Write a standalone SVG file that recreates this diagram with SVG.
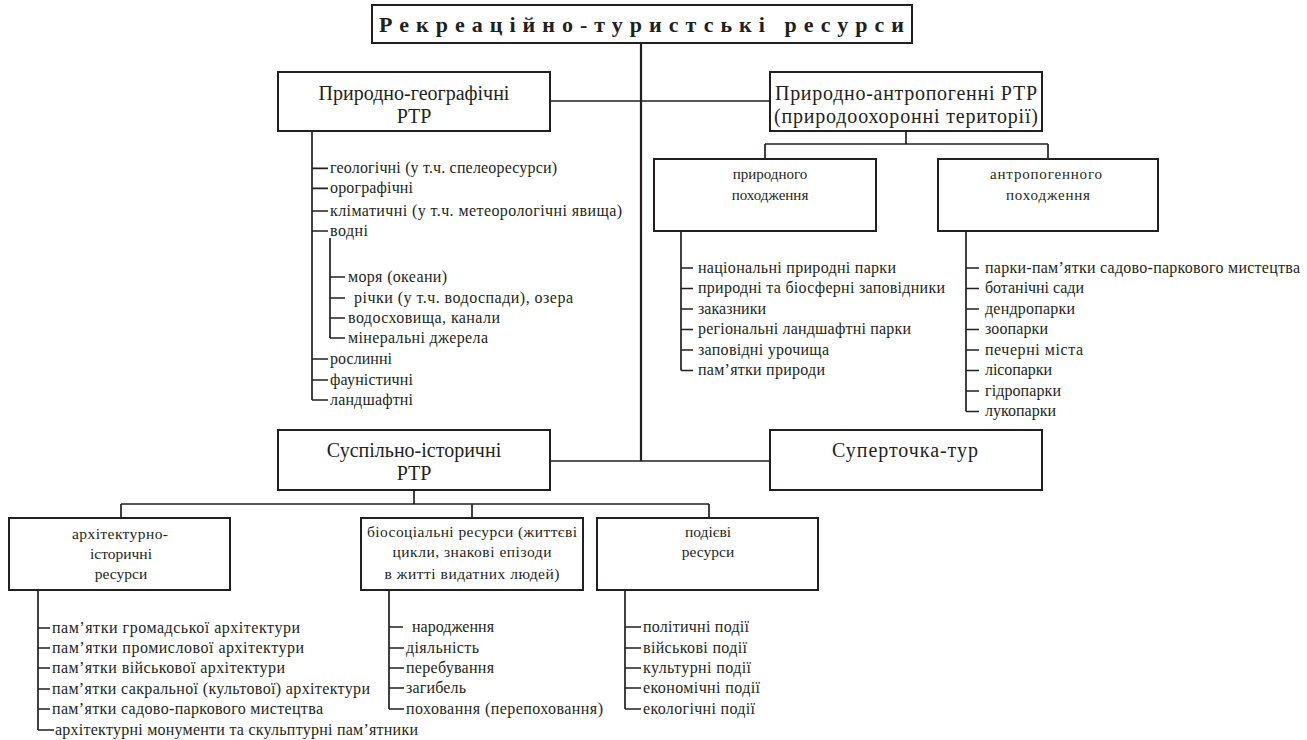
<svg xmlns="http://www.w3.org/2000/svg" width="1307" height="740" viewBox="0 0 1307 740">
<style>
text{font-family:"Liberation Serif","Times New Roman",serif;fill:#231f20}
.box{fill:#fff;stroke:#231f20;stroke-width:2}
.ln{fill:none;stroke:#231f20;stroke-width:1.7}
.tr{fill:none;stroke:#231f20;stroke-width:2.2}
.t20{font-size:20px;text-anchor:middle}
.t14{font-size:15px;text-anchor:middle}
.t15m{font-size:15.5px;text-anchor:middle}
.li{font-size:16px}
.ttl{font-size:22px;font-weight:bold}
</style>
<rect width="1307" height="740" fill="#fff"/>
<g id="connectors">
<path class="tr" d="M641,43 V461"/>
<path class="ln" d="M550,101 H770 M550,461 H770"/>
<path class="ln" d="M906,131 V144 M765,144 H1048 M765,144 V159 M1048,144 V159"/>
<path class="ln" d="M414,490 V504 M121,504 H709 M121,504 V518 M472,504 V518 M709,504 V518"/>
<path class="ln" d="M312,131 V400 M312,168.3 H328 M312,188.3 H328 M312,211 H328 M312,231 H328 M312,359 H328 M312,380 H328 M312,400 H328"/>
<path class="ln" d="M330,238 V338 M330,277 H345 M330,298 H345 M330,318 H345 M330,338 H345"/>
<path class="ln" d="M681,231 V370.5 M681,268 H693 M681,288.5 H693 M681,309 H693 M681,329.5 H693 M681,350 H693 M681,370.5 H693"/>
<path class="ln" d="M966,231 V411.5 M966,268 H979 M966,288.5 H979 M966,309 H979 M966,329.5 H979 M966,350 H979 M966,370.5 H979 M966,391 H979 M966,411.5 H979"/>
<path class="ln" d="M38,590 V730 M38,628 H50 M38,648 H50 M38,668 H50 M38,689 H50 M38,709 H50 M38,730 H54"/>
<path class="ln" d="M389,590 V709 M389,627 H403 M389,648 H404 M389,668 H404 M389,688 H404 M389,709 H404"/>
<path class="ln" d="M625,590 V709 M625,627 H641 M625,648 H641 M625,668 H641 M625,688 H641 M625,709 H641"/>
</g>
<g id="title">
<rect class="box" x="372" y="5" width="540" height="38"/>
<text class="ttl" x="379" y="32" textLength="525">Рекреаційно-туристські ресурси</text>
</g>
<g id="node-pg">
<rect class="box" x="278" y="72" width="272" height="59"/>
<text class="t20" x="414" y="100">Природно-географічні</text>
<text class="t20" x="414" y="123">РТР</text>
</g>
<g id="node-pa">
<rect class="box" x="770" y="72" width="272" height="59"/>
<text class="t20" x="906" y="100" textLength="262">Природно-антропогенні РТР</text>
<text class="t20" x="906" y="123" textLength="264">(природоохоронні території)</text>
</g>
<g id="node-pn">
<rect class="box" x="654" y="159" width="222" height="72"/>
<text class="t14" x="770" y="179">природного</text>
<text class="t14" x="770" y="200">походження</text>
</g>
<g id="node-an">
<rect class="box" x="938" y="159" width="220" height="72"/>
<text class="t14" x="1046" y="179" textLength="112">антропогенного</text>
<text class="t14" x="1048" y="200" textLength="84">походження</text>
</g>
<g id="node-si">
<rect class="box" x="278" y="430" width="272" height="60"/>
<text class="t20" x="414" y="457">Суспільно-історичні</text>
<text class="t20" x="414" y="480">РТР</text>
</g>
<g id="node-st">
<rect class="box" x="770" y="430" width="272" height="60"/>
<text class="t20" x="905" y="457" textLength="146">Суперточка-тур</text>
</g>
<g id="node-ar">
<rect class="box" x="9" y="518" width="221" height="72"/>
<text class="t15m" x="120" y="539" textLength="96">архітектурно-</text>
<text class="t15m" x="121" y="559">історичні</text>
<text class="t15m" x="121" y="579">ресурси</text>
</g>
<g id="node-bio">
<rect class="box" x="361" y="518" width="222" height="72"/>
<text class="t15m" x="472" y="537" textLength="210">біосоціальні ресурси (життєві</text>
<text class="t15m" x="472" y="557" textLength="159">цикли, знакові епізоди</text>
<text class="t15m" x="472" y="579" textLength="175">в житті видатних людей)</text>
</g>
<g id="node-pod">
<rect class="box" x="597" y="518" width="221" height="72"/>
<text class="t15m" x="708" y="537">подієві</text>
<text class="t15m" x="708" y="557">ресурси</text>
</g>
<g id="list-pg" class="li">
<text x="330" y="172.5" textLength="227">геологічні (у т.ч. спелеоресурси)</text>
<text x="330" y="192.5" textLength="83">орографічні</text>
<text x="330" y="215.5" textLength="292">кліматичні (у т.ч. метеорологічні явища)</text>
<text x="330" y="235.5" textLength="38">водні</text>
<text x="348" y="281.5" textLength="99">моря (океани)</text>
<text x="354" y="302.5" textLength="219">річки (у т.ч. водоспади), озера</text>
<text x="348" y="322.5" textLength="152">водосховища, канали</text>
<text x="348" y="342.5" textLength="140">мінеральні джерела</text>
<text x="330" y="363.5" textLength="62">рослинні</text>
<text x="330" y="384.5" textLength="83">фауністичні</text>
<text x="330" y="404.5" textLength="83">ландшафтні</text>
</g>
<g id="list-pn" class="li">
<text x="698" y="272.5" textLength="198">національні природні парки</text>
<text x="698" y="293" textLength="247">природні та біосферні заповідники</text>
<text x="698" y="313.5" textLength="68">заказники</text>
<text x="698" y="334" textLength="213">регіональні ландшафтні парки</text>
<text x="698" y="354.5" textLength="131">заповідні урочища</text>
<text x="698" y="375" textLength="127">пам’ятки природи</text>
</g>
<g id="list-an" class="li">
<text x="985" y="272.5" textLength="315">парки-пам’ятки садово-паркового мистецтва</text>
<text x="985" y="293" textLength="99">ботанічні сади</text>
<text x="985" y="313.5" textLength="90">дендропарки</text>
<text x="985" y="334" textLength="63">зоопарки</text>
<text x="985" y="354.5" textLength="98">печерні міста</text>
<text x="985" y="375" textLength="67">лісопарки</text>
<text x="985" y="395.5" textLength="76">гідропарки</text>
<text x="985" y="416" textLength="71">лукопарки</text>
</g>
<g id="list-ar" class="li">
<text x="52" y="632.5" textLength="248">пам’ятки громадської архітектури</text>
<text x="52" y="652.5" textLength="252">пам’ятки промислової архітектури</text>
<text x="52" y="672.5" textLength="233">пам’ятки військової архітектури</text>
<text x="52" y="693.5" textLength="318">пам’ятки сакральної (культової) архітектури</text>
<text x="52" y="713.5" textLength="271">пам’ятки садово-паркового мистецтва</text>
<text x="55" y="734.5" textLength="363">архітектурні монументи та скульптурні пам’ятники</text>
</g>
<g id="list-bio" class="li">
<text x="412" y="631.5" textLength="82">народження</text>
<text x="406" y="652.5" textLength="73">діяльність</text>
<text x="406" y="672.5" textLength="88">перебування</text>
<text x="406" y="692.5" textLength="60">загибель</text>
<text x="406" y="713.5" textLength="197">поховання (перепоховання)</text>
</g>
<g id="list-pod" class="li">
<text x="643" y="631.5" textLength="106">політичні події</text>
<text x="643" y="652.5" textLength="104">військові події</text>
<text x="643" y="672.5" textLength="108">культурні події</text>
<text x="643" y="692.5" textLength="117">економічні події</text>
<text x="643" y="713.5" textLength="112">екологічні події</text>
</g>
</svg>
